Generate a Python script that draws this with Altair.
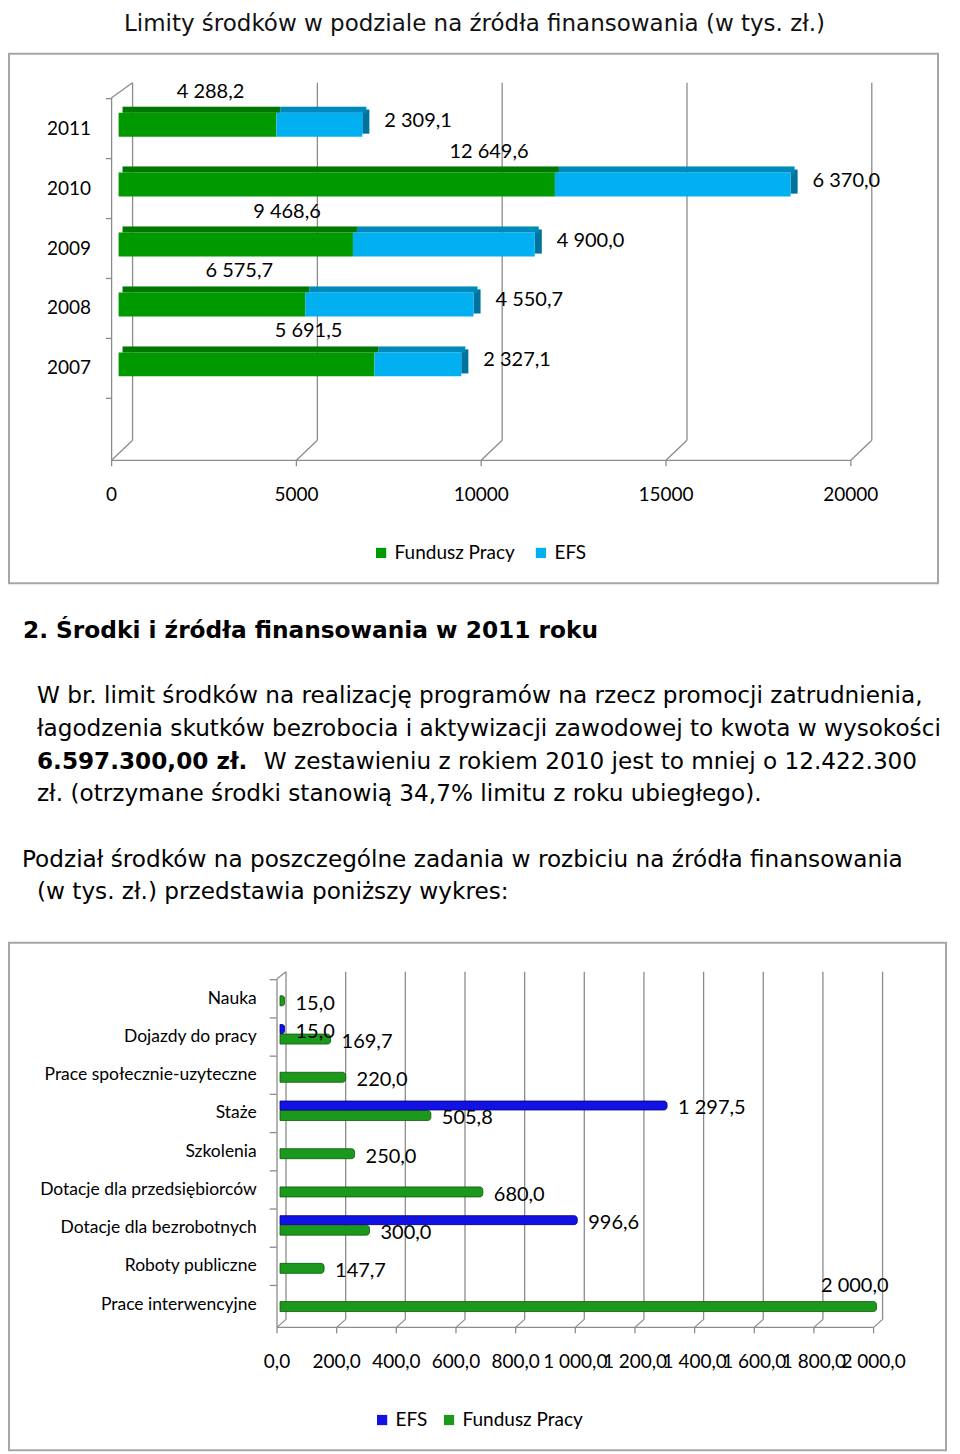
import altair as alt
import pandas as pd

# ---------------- chart 1: limits by source ----------------
years = ["2011", "2010", "2009", "2008", "2007"]
fp_bar_len = [4270, 11805, 6341, 5049, 6922]      # bar lengths as drawn
efs_bar_len = [2325, 6376, 4919, 4554, 2351]
fp_label_vals = [4288.2, 12649.6, 9468.6, 6575.7, 5691.5]   # printed labels
efs_label_vals = [2309.1, 6370.0, 4900.0, 4550.7, 2327.1]
ticks1 = [0, 5000, 10000, 15000, 20000]
series1 = ["Fundusz Pracy", "EFS"]
colors1 = ["#009a00", "#00b0f0"]
title1 = "Limity środków w podziale na źródła finansowania (w tys. zł.)"

# ---------------- chart 2: tasks ----------------
tasks = ["Nauka", "Dojazdy do pracy", "Prace społecznie-uzyteczne", "Staże", "Szkolenia",
         "Dotacje dla przedsiębiorców", "Dotacje dla bezrobotnych", "Roboty publiczne",
         "Prace interwencyjne"]
fp2 = [15.0, 169.7, 220.0, 505.8, 250.0, 680.0, 300.0, 147.7, 2000.0]
efs2 = [None, 15.0, None, 1297.5, None, None, 996.6, None, None]
ticks2 = [0, 200, 400, 600, 800, 1000, 1200, 1400, 1600, 1800, 2000]
series2 = ["EFS", "Fundusz Pracy"]
colors2 = ["#1212e4", "#1c981c"]

# ---------------- text ----------------
heading = "2. Środki i źródła finansowania w 2011 roku"
para1 = ["W br. limit środków na realizację programów na rzecz promocji zatrudnienia,",
         "łagodzenia skutków bezrobocia i aktywizacji zawodowej to kwota w wysokości"]
line3_bold = "6.597.300,00 zł."
line3_rest = "W zestawieniu z rokiem 2010 jest to mniej o 12.422.300"
line4 = "zł. (otrzymane środki stanowią 34,7% limitu z roku ubiegłego)."
intro1 = "Podział środków na poszczególne zadania w rozbiciu na źródła finansowania"
intro2 = "(w tys. zł.) przedstawia poniższy wykres:"


def fmt(v):
    return f"{v:,.1f}".replace(",", " ").replace(".", ",")


GRID = "#8c8c8c"
BOX = alt.ViewBackground(stroke="#a6a6a6", strokeWidth=2)
LAB = "Lato"
BODY = "DejaVu Sans"
BODY_SIZE = 23.2

# ===== panel 1: title =====
p1 = alt.Chart(pd.DataFrame({"t": [title1]})).mark_text(
    font=BODY, fontSize=23, align="center", baseline="middle", color="#111"
).encode(x=alt.value(466), y=alt.value(15), text="t:N").properties(width=944, height=45)

# ===== panel 2: chart 1 =====
rows = []
for y, f, e, fl, el in zip(years, fp_bar_len, efs_bar_len, fp_label_vals, efs_label_vals):
    rows.append(dict(year=y, series="Fundusz Pracy", start=0, end=f, label=fmt(fl)))
    rows.append(dict(year=y, series="EFS", start=f, end=f + e, label=fmt(el)))
bars1 = pd.DataFrame(rows)
t1 = pd.DataFrame({"v": ticks1})
cats1 = pd.DataFrame({"year": years + [" "]})

X1 = alt.Scale(domain=[0, 20000], range=[109.7, 849.7], nice=False, zero=False)
Y1 = alt.Scale(domain=years + [" "], range=[45, 405], paddingInner=0, paddingOuter=0)
C1 = alt.Scale(domain=series1, range=colors1)
LEG1 = alt.Legend(orient="none", legendX=363, legendY=490, direction="horizontal", title=None,
                  symbolType="square", symbolSize=105, symbolStrokeWidth=0, labelFont=LAB,
                  labelFontSize=19, labelColor="black", columnPadding=16, labelOffset=4)

xq1 = lambda f: alt.X(f, scale=X1, axis=None)
yq1 = alt.Y("year:N", scale=Y1, axis=None)
col1 = alt.Color("series:N", scale=C1, legend=LEG1)

g_grid = alt.Chart(t1).mark_rule(color=GRID, strokeWidth=1.3, xOffset=14).encode(
    x=xq1("v:Q"), y=alt.value(29), y2=alt.value(387))
g_diag = alt.Chart(t1).mark_rule(color=GRID, strokeWidth=1.3, xOffset=-7, x2Offset=14).encode(
    x=xq1("v:Q"), x2="v:Q", y=alt.value(407), y2=alt.value(387))
g_floor = alt.Chart(t1).mark_rule(color=GRID, strokeWidth=1.3, xOffset=-7, x2Offset=-7).encode(
    x=xq1("min(v):Q"), x2="max(v):Q", y=alt.value(407))
g_ftick = alt.Chart(t1).mark_rule(color=GRID, strokeWidth=1.3, xOffset=-7).encode(
    x=xq1("v:Q"), y=alt.value(407), y2=alt.value(413))
g_yaxis = alt.Chart(t1).mark_rule(color=GRID, strokeWidth=1.3, xOffset=-7).encode(
    x=xq1("min(v):Q"), y=alt.value(44), y2=alt.value(407))
g_ytop = alt.Chart(t1).mark_rule(color=GRID, strokeWidth=1.3, xOffset=-7, x2Offset=14).encode(
    x=xq1("min(v):Q"), x2="min(v):Q", y=alt.value(44), y2=alt.value(29))
g_yticks = alt.Chart(cats1).mark_rule(color=GRID, strokeWidth=1.3).encode(
    y=alt.Y("year:N", scale=Y1, axis=None, bandPosition=0), x=alt.value(97), x2=alt.value(103))

efs1 = alt.Chart(bars1).transform_filter(alt.datum.series == "EFS")
fp1 = alt.Chart(bars1).transform_filter(alt.datum.series == "Fundusz Pracy")

b_side = efs1.mark_bar(size=24, yOffset=-7, x2Offset=7).encode(
    x=xq1("end:Q"), x2="end:Q", y=yq1, color=col1)
b_side_d = efs1.mark_bar(size=24, yOffset=-7, x2Offset=7).encode(
    x=xq1("end:Q"), x2="end:Q", y=yq1, color=alt.value("black"), opacity=alt.value(0.35))
b_top = alt.Chart(bars1).mark_bar(size=6, yOffset=-19, xOffset=4, x2Offset=4).encode(
    x=xq1("start:Q"), x2="end:Q", y=yq1, color=col1)
b_top_d = alt.Chart(bars1).mark_bar(size=6, yOffset=-19, xOffset=4, x2Offset=4).encode(
    x=xq1("start:Q"), x2="end:Q", y=yq1, color=alt.value("black"), opacity=alt.value(0.22))
b_front = alt.Chart(bars1).mark_bar(size=24, yOffset=-4).encode(
    x=xq1("start:Q"), x2="end:Q", y=yq1, color=col1)

l_fp = fp1.mark_text(font=LAB, fontSize=20, align="center", baseline="middle", dx=-66, dy=-37,
                     color="black").encode(x=xq1("end:Q"), y=yq1, text="label:N")
l_efs = efs1.mark_text(font=LAB, fontSize=20, align="left", baseline="middle", dx=22, dy=-8,
                       color="black").encode(x=xq1("end:Q"), y=yq1, text="label:N")
l_year = alt.Chart(pd.DataFrame({"year": years})).mark_text(
    font=LAB, fontSize=19, align="right", baseline="middle", color="black").encode(
    x=alt.value(82), y=yq1, text="year:N")
l_x = alt.Chart(t1).mark_text(font=LAB, fontSize=19, baseline="middle", dx=-7, color="black").encode(
    x=xq1("v:Q"), y=alt.value(442), text=alt.Text("v:Q", format="d"))

p2 = alt.layer(g_grid, g_diag, g_floor, g_ftick, g_yaxis, g_ytop, g_yticks,
               b_side, b_side_d, b_top, b_top_d, b_front,
               l_fp, l_efs, l_year, l_x).properties(width=930, height=530, view=BOX)

# ===== panel 3: text =====
R = alt.Scale(domain=[0, 8], range=[48, 309.6])
yr = alt.Y("row:Q", scale=R, axis=None)
t_head = alt.Chart(pd.DataFrame({"row": [0], "t": [heading]})).mark_text(
    font=BODY, fontSize=23.3, fontWeight="bold", align="left", baseline="middle", color="black"
).encode(x=alt.value(14), y=yr, text="t:N")
t_body = alt.Chart(pd.DataFrame({"row": [2, 3, 5, 8], "t": para1 + [line4, intro2]})).mark_text(
    font=BODY, fontSize=BODY_SIZE, align="left", baseline="middle", color="black"
).encode(x=alt.value(28), y=yr, text="t:N")
t_bold = alt.Chart(pd.DataFrame({"row": [4], "t": [line3_bold]})).mark_text(
    font=BODY, fontSize=BODY_SIZE, fontWeight="bold", align="left", baseline="middle", color="black"
).encode(x=alt.value(28), y=yr, text="t:N")
t_rest = alt.Chart(pd.DataFrame({"row": [4], "t": [line3_rest]})).mark_text(
    font=BODY, fontSize=BODY_SIZE, align="left", baseline="middle", color="black"
).encode(x=alt.value(255), y=yr, text="t:N")
t_intro = alt.Chart(pd.DataFrame({"row": [7], "t": [intro1]})).mark_text(
    font=BODY, fontSize=BODY_SIZE, align="left", baseline="middle", color="black"
).encode(x=alt.value(13), y=yr, text="t:N")
p3 = alt.layer(t_head, t_body, t_bold, t_rest, t_intro).properties(width=944, height=360)

# ===== panel 4: chart 2 =====
rows2 = []
for c, f, e in zip(tasks, fp2, efs2):
    rows2.append(dict(cat=c, series="Fundusz Pracy", value=f, label=fmt(f)))
    if e is not None:
        rows2.append(dict(cat=c, series="EFS", value=e, label=fmt(e)))
bars2 = pd.DataFrame(rows2)
t2 = pd.DataFrame({"v": ticks2, "lab": [fmt(v) for v in ticks2]})
cats2 = pd.DataFrame({"cat": tasks})

X2 = alt.Scale(domain=[0, 2000], range=[271.3, 868.5], nice=False, zero=False)
Y2 = alt.Scale(domain=tasks, range=[37, 381.3], paddingInner=0, paddingOuter=0)
C2 = alt.Scale(domain=series2, range=colors2)
LEG2 = alt.Legend(orient="none", legendX=364, legendY=468, direction="horizontal", title=None,
                  symbolType="square", symbolSize=105, symbolStrokeWidth=0, labelFont=LAB,
                  labelFontSize=19, labelColor="black", columnPadding=12, labelOffset=4)
xq2 = lambda f: alt.X(f, scale=X2, axis=None)
yq2 = alt.Y("cat:N", scale=Y2, axis=None)
col2 = alt.Color("series:N", scale=C2, legend=LEG2)

h_grid = alt.Chart(t2).mark_rule(color=GRID, strokeWidth=1.3, xOffset=6).encode(
    x=xq2("v:Q"), y=alt.value(29), y2=alt.value(377))
h_diag = alt.Chart(t2).mark_rule(color=GRID, strokeWidth=1.3, xOffset=-3, x2Offset=6).encode(
    x=xq2("v:Q"), x2="v:Q", y=alt.value(385), y2=alt.value(377))
h_floor = alt.Chart(t2).mark_rule(color=GRID, strokeWidth=1.3, xOffset=-3, x2Offset=-3).encode(
    x=xq2("min(v):Q"), x2="max(v):Q", y=alt.value(385))
h_ftick = alt.Chart(t2).mark_rule(color=GRID, strokeWidth=1.3, xOffset=-3).encode(
    x=xq2("v:Q"), y=alt.value(385), y2=alt.value(391))
h_yaxis = alt.Chart(t2).mark_rule(color=GRID, strokeWidth=1.3, xOffset=-3).encode(
    x=xq2("min(v):Q"), y=alt.value(36), y2=alt.value(385))
h_ytop = alt.Chart(t2).mark_rule(color=GRID, strokeWidth=1.3, xOffset=-3, x2Offset=6).encode(
    x=xq2("min(v):Q"), x2="min(v):Q", y=alt.value(36), y2=alt.value(29))
h_yticks = alt.Chart(cats2).mark_rule(color=GRID, strokeWidth=1.3).encode(
    y=alt.Y("cat:N", scale=Y2, axis=None, bandPosition=0), x=alt.value(261), x2=alt.value(268))

fpb = alt.Chart(bars2).transform_filter(alt.datum.series == "Fundusz Pracy")
efb = alt.Chart(bars2).transform_filter(alt.datum.series == "EFS")
c_fp = fpb.mark_bar(size=10, yOffset=2, cornerRadiusEnd=3, stroke="#0b5a0b", strokeWidth=0.8).encode(
    x=alt.X("value:Q", scale=X2, axis=None, stack=None), y=yq2, color=col2)
c_efs = efb.mark_bar(size=9, yOffset=-8, cornerRadiusEnd=3, stroke="#00007a", strokeWidth=0.8).encode(
    x=alt.X("value:Q", scale=X2, axis=None, stack=None), y=yq2, color=col2)

m_fp = fpb.transform_filter(alt.datum.value < 1900).mark_text(
    font=LAB, fontSize=20, align="left", baseline="middle", dx=11, dy=5, color="black").encode(
    x=xq2("value:Q"), y=yq2, text="label:N")
m_fp_big = fpb.transform_filter(alt.datum.value >= 1900).mark_text(
    font=LAB, fontSize=20, align="right", baseline="middle", dx=12, dy=-19, color="black").encode(
    x=xq2("value:Q"), y=yq2, text="label:N")
m_efs = efb.mark_text(font=LAB, fontSize=20, align="left", baseline="middle", dx=11, dy=-5,
                      color="black").encode(x=xq2("value:Q"), y=yq2, text="label:N")
m_cat = alt.Chart(cats2).mark_text(font=LAB, fontSize=17.5, align="right", baseline="middle",
                                   color="black").encode(x=alt.value(248), y=yq2, text="cat:N")
m_x = alt.Chart(t2).mark_text(font=LAB, fontSize=19, baseline="middle", dx=-3, color="black").encode(
    x=xq2("v:Q"), y=alt.value(420), text="lab:N")

p4 = alt.layer(h_grid, h_diag, h_floor, h_ftick, h_yaxis, h_ytop, h_yticks,
               c_fp, c_efs, m_fp, m_fp_big, m_efs, m_cat, m_x).properties(
    width=938, height=508, view=BOX)

chart = alt.vconcat(p1, p2, p3, p4, spacing=0, bounds="flush").resolve_scale(
    color="independent", x="independent", y="independent"
).properties(padding=0).configure_view(stroke=None)

chart.save("out.html", embed_options={"renderer": "svg", "actions": False})
